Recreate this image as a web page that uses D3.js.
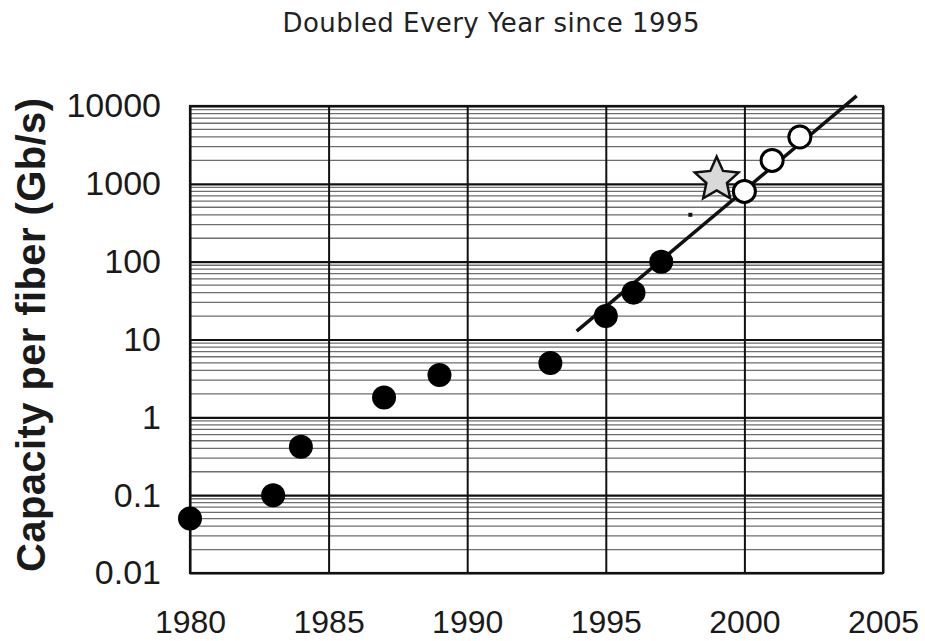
<!DOCTYPE html>
<html>
<head>
<meta charset="utf-8">
<script src="https://cdn.jsdelivr.net/npm/d3@7"></script>
<style>
  body { margin: 0; background: #fff; }
</style>
</head>
<body>
<svg id="chart" width="925" height="641"></svg>
<script>
// measured points (year, Gb/s per fiber)
const filledYears = [1980, 1983, 1984, 1987, 1989, 1993, 1995, 1996, 1997];
const filledValues = [0.05, 0.1, 0.42, 1.8, 3.5, 5, 20, 40, 100];
const openYears = [2000, 2001, 2002];
const openValues = [800, 2000, 4000];
const starYears = [1999];
const starValues = [1200];
const dotYears = [1998.05];
const dotValues = [400];
// "doubled every year" trend line
const trendYears = [1993.95, 2004.05];
const trendValues = [12.8, 13500];

const xTicks = [1980, 1985, 1990, 1995, 2000, 2005];
const yTicks = [0.01, 0.1, 1, 10, 100, 1000, 10000];
const yTickLabels = ["0.01", "0.1", "1", "10", "100", "1000", "10000"];

const margin = { top: 106, right: 42, bottom: 68, left: 190 };
const width = 925 - margin.left - margin.right;
const height = 641 - margin.top - margin.bottom;

const svg = d3.select("#chart");

svg.append("text")
    .attr("x", 491)
    .attr("y", 32)
    .attr("text-anchor", "middle")
    .style("font-family", "DejaVu Sans, Verdana, sans-serif")
    .style("font-size", "26px")
    .attr("textLength", 417)
    .attr("fill", "#222")
    .text("Doubled Every Year since 1995");

const g = svg.append("g")
    .attr("transform", "translate(" + margin.left + "," + margin.top + ")");

const x = d3.scaleLinear().domain([1980, 2005]).range([0, width]);
const y = d3.scaleLog().domain([0.01, 10000]).range([height, 0]);

// minor grid (2..9 in every decade)
const minor = y.ticks().filter(v => !yTicks.includes(v));
g.append("g")
    .selectAll("line")
    .data(minor)
    .enter()
    .append("line")
    .attr("x1", 0)
    .attr("x2", width)
    .attr("y1", d => y(d))
    .attr("y2", d => y(d))
    .attr("stroke", "#6e6e6e")
    .attr("stroke-width", 1.3);

// major grid
g.append("g")
    .call(d3.axisLeft(y).tickValues(yTicks).tickSize(-width).tickFormat(""))
    .call(a => a.select(".domain").remove())
    .selectAll("line")
    .attr("stroke", "#111")
    .attr("stroke-width", 2.2);

g.append("g")
    .call(d3.axisBottom(x).tickValues(xTicks).tickSize(height).tickFormat(""))
    .call(a => a.select(".domain").remove())
    .selectAll("line")
    .attr("stroke", "#111")
    .attr("stroke-width", 2);

g.append("rect")
    .attr("width", width)
    .attr("height", height)
    .attr("fill", "none")
    .attr("stroke", "#111")
    .attr("stroke-width", 2.2);

// tick labels
const yAxis = g.append("g")
    .call(d3.axisLeft(y).tickValues(yTicks).tickSize(0).tickPadding(29)
        .tickFormat((d, i) => yTickLabels[i]));
yAxis.select(".domain").remove();
yAxis.selectAll("text")
    .style("font-family", "Liberation Sans, Arial, sans-serif")
    .style("font-size", "34px")
    .attr("fill", "#1a1a1a");

const xAxis = g.append("g")
    .attr("transform", "translate(0," + height + ")")
    .call(d3.axisBottom(x).tickValues(xTicks).tickSize(0).tickPadding(37)
        .tickFormat(d3.format("d")));
xAxis.select(".domain").remove();
xAxis.selectAll("text")
    .style("font-family", "Liberation Sans, Arial, sans-serif")
    .style("font-size", "32px")
    .attr("fill", "#1a1a1a");

svg.append("text")
    .attr("transform", "translate(45,335)rotate(-90)")
    .attr("text-anchor", "middle")
    .style("font-family", "Liberation Sans, Arial, sans-serif")
    .style("font-size", "40px")
    .style("font-weight", "bold")
    .attr("textLength", 474)
    .attr("fill", "#1a1a1a")
    .text("Capacity per fiber (Gb/s)");

// trend line
const line = d3.line().x(d => x(d[0])).y(d => y(d[1]));
g.append("path")
    .datum(d3.zip(trendYears, trendValues))
    .attr("d", line)
    .attr("fill", "none")
    .attr("stroke", "#111")
    .attr("stroke-width", 3.5);

// stray dot
g.selectAll(".dot")
    .data(d3.zip(dotYears, dotValues))
    .enter()
    .append("rect")
    .attr("x", d => x(d[0]) - 2)
    .attr("y", d => y(d[1]) - 2)
    .attr("width", 4)
    .attr("height", 4)
    .attr("fill", "#111");

// star, a bit fatter than d3.symbolStar
const fatStar = {
    draw(context, size) {
        const R = Math.sqrt(size), r = R * 0.47;
        for (let i = 0; i < 10; i++) {
            const a = -Math.PI / 2 + i * Math.PI / 5;
            const rr = i % 2 ? r : R;
            if (i === 0) context.moveTo(rr * Math.cos(a), rr * Math.sin(a));
            else context.lineTo(rr * Math.cos(a), rr * Math.sin(a));
        }
        context.closePath();
    }
};
g.selectAll(".star")
    .data(d3.zip(starYears, starValues))
    .enter()
    .append("path")
    .attr("d", d3.symbol(fatStar, 23 * 23))
    .attr("transform", d => "translate(" + x(d[0]) + "," + (y(d[1]) + 2) + ")")
    .attr("fill", "#d9d9d9")
    .attr("stroke", "#111")
    .attr("stroke-width", 2.5);

// filled points
g.selectAll(".filled")
    .data(d3.zip(filledYears, filledValues))
    .enter()
    .append("circle")
    .attr("cx", d => x(d[0]))
    .attr("cy", d => y(d[1]))
    .attr("r", 12)
    .attr("fill", "#000");

// open points
g.selectAll(".open")
    .data(d3.zip(openYears, openValues))
    .enter()
    .append("circle")
    .attr("cx", d => x(d[0]))
    .attr("cy", d => y(d[1]))
    .attr("r", 11)
    .attr("fill", "#fff")
    .attr("stroke", "#000")
    .attr("stroke-width", 3);
</script>
</body>
</html>
